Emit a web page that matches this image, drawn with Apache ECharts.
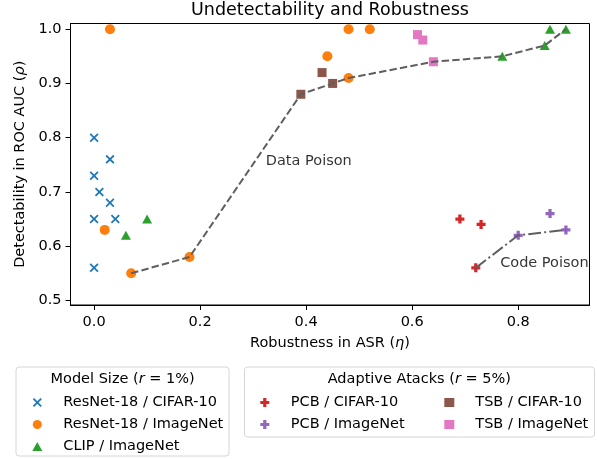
<!DOCTYPE html>
<html>
<head>
<meta charset="utf-8">
<script src="https://cdn.jsdelivr.net/npm/echarts@6/dist/echarts.min.js"></script>
<style>
  html, body { margin: 0; padding: 0; background: #fff; }
  #chart { width: 597px; height: 459px; }
</style>
</head>
<body>
<div id="chart"></div>
<script>
// model size (r = 1%)
const resnetCifar = [[0, 0.80], [0.03, 0.76], [0, 0.73], [0.01, 0.70], [0.03, 0.68], [0, 0.65], [0.04, 0.65], [0, 0.56]];
const resnetImagenet = [[0.03, 1.0], [0.02, 0.63], [0.07, 0.55], [0.18, 0.58], [0.48, 1.0], [0.52, 1.0], [0.44, 0.95], [0.48, 0.91]];
const clipImagenet = [[0.06, 0.62], [0.10, 0.65], [0.77, 0.95], [0.85, 0.97], [0.86, 1.0], [0.89, 1.0]];

// adaptive attacks (r = 5%)
const pcbCifar = [[0.69, 0.65], [0.73, 0.64], [0.72, 0.56]];
const pcbImagenet = [[0.80, 0.62], [0.86, 0.66], [0.89, 0.63]];
const tsbCifar = [[0.39, 0.88], [0.43, 0.92], [0.45, 0.90]];
const tsbImagenet = [[0.61, 0.99], [0.62, 0.98], [0.64, 0.94]];

// frontier lines
const dataPoison = [[0.07, 0.55], [0.18, 0.58], [0.39, 0.88], [0.45, 0.90], [0.48, 0.91], [0.64, 0.94], [0.77, 0.95], [0.85, 0.97], [0.89, 1.0]];
const codePoison = [[0.72, 0.56], [0.80, 0.62], [0.89, 0.63]];
const notes = [[0.323, 0.757, 'Data Poison'], [0.765, 0.568, 'Code Poison']];

const xTicks = [0, 0.2, 0.4, 0.6, 0.8];
const yTicks = [0.5, 0.6, 0.7, 0.8, 0.9, 1.0];

const FONT = 'DejaVu Sans';
const FS = 14.5;
const xMark = 'path://M0,1.4L1.4,0L5,3.6L8.6,0L10,1.4L6.4,5L10,8.6L8.6,10L5,6.4L1.4,10L0,8.6L3.6,5Z';
const plusMark = 'path://M3.2,0H6.8V3.2H10V6.8H6.8V10H3.2V6.8H0V3.2H3.2Z';

function pts(name, data, symbol, size, color) {
    return {
        name: name,
        type: 'scatter',
        data: data,
        symbol: symbol,
        symbolSize: size,
        itemStyle: { color: color, opacity: 1 },
        z: 2
    };
}

const chart = echarts.init(document.getElementById('chart'));

const legendBase = {
    orient: 'vertical',
    top: 395,
    padding: 0,
    itemWidth: 10,
    itemHeight: 9,
    itemGap: 7,
    selectedMode: false,
    textStyle: { fontFamily: FONT, fontSize: FS, color: '#000', lineHeight: 14, padding: [0, 0, 0, 16] }
};

const italic = { fontFamily: FONT, fontSize: FS, fontStyle: 'italic', color: '#000' };

const option = {
    animation: false,
    title: {
        text: 'Undetectability and Robustness',
        left: 330,
        textAlign: 'center',
        top: 1,
        padding: 0,
        textStyle: { fontFamily: FONT, fontSize: 17.5, fontWeight: 'normal', color: '#000', lineHeight: 19 }
    },
    grid: {
        left: 70.5, right: 7.5, top: 23.5, bottom: 154,
        show: true, borderColor: '#000', borderWidth: 1
    },
    xAxis: {
        type: 'value',
        min: -0.0445,
        max: 0.9345,
        name: 'Robustness in ASR ({i|η})',
        nameLocation: 'middle',
        nameGap: 31,
        nameTextStyle: { fontFamily: FONT, fontSize: FS, color: '#000', rich: { i: italic } },
        axisLine: { onZero: false, lineStyle: { color: '#000', width: 1 } },
        axisTick: { show: true, length: 5, customValues: xTicks, lineStyle: { color: '#000' } },
        axisLabel: {
            customValues: xTicks, margin: 10,
            fontFamily: FONT, fontSize: FS, color: '#000',
            formatter: v => v.toFixed(1)
        },
        splitLine: { show: false }
    },
    yAxis: {
        type: 'value',
        min: 0.4915,
        max: 1.0105,
        name: 'Detectability in ROC AUC ({i|ρ})',
        nameLocation: 'middle',
        nameGap: 41,
        nameTextStyle: { fontFamily: FONT, fontSize: FS, color: '#000', rich: { i: italic } },
        axisLine: { onZero: false, lineStyle: { color: '#000', width: 1 } },
        axisTick: { show: true, length: 5, customValues: yTicks, lineStyle: { color: '#000' } },
        axisLabel: {
            customValues: yTicks, margin: 9,
            fontFamily: FONT, fontSize: FS, color: '#000',
            formatter: v => v.toFixed(1)
        },
        splitLine: { show: false }
    },
    legend: [
        Object.assign({}, legendBase, {
            left: 32.3,
            data: ['ResNet-18 / CIFAR-10', 'ResNet-18 / ImageNet', 'CLIP / ImageNet']
        }),
        Object.assign({}, legendBase, {
            left: 260.3,
            data: ['PCB / CIFAR-10', 'PCB / ImageNet']
        }),
        Object.assign({}, legendBase, {
            left: 444.3,
            data: ['TSB / CIFAR-10', 'TSB / ImageNet']
        })
    ],
    graphic: [
        {
            type: 'rect', silent: true, z: -1,
            shape: { x: 16, y: 367, width: 213, height: 89, r: 3 },
            style: { fill: '#fff', stroke: '#d6d6d6', lineWidth: 1 }
        },
        {
            type: 'rect', silent: true, z: -1,
            shape: { x: 244.5, y: 367, width: 350, height: 70, r: 3 },
            style: { fill: '#fff', stroke: '#d6d6d6', lineWidth: 1 }
        },
        {
            type: 'text', silent: true,
            x: 122.6, y: 379,
            style: {
                text: 'Model Size ({i|r} = 1%)',
                align: 'center', verticalAlign: 'middle',
                fontFamily: FONT, fontSize: FS, fill: '#000',
                rich: { i: { fontFamily: FONT, fontSize: FS, fontStyle: 'italic', fill: '#000' } }
            }
        },
        {
            type: 'text', silent: true,
            x: 419.3, y: 379,
            style: {
                text: 'Adaptive Atacks ({i|r} = 5%)',
                align: 'center', verticalAlign: 'middle',
                fontFamily: FONT, fontSize: FS, fill: '#000',
                rich: { i: { fontFamily: FONT, fontSize: FS, fontStyle: 'italic', fill: '#000' } }
            }
        }
    ],
    series: [
        pts('ResNet-18 / CIFAR-10', resnetCifar, xMark, 9, '#1f77b4'),
        pts('ResNet-18 / ImageNet', resnetImagenet, 'circle', 10, '#ff7f0e'),
        pts('CLIP / ImageNet', clipImagenet, 'triangle', [10, 9], '#2ca02c'),
        pts('PCB / CIFAR-10', pcbCifar, plusMark, 9, '#d62728'),
        pts('PCB / ImageNet', pcbImagenet, plusMark, 9, '#9467bd'),
        pts('TSB / CIFAR-10', tsbCifar, 'rect', 9, '#8c564b'),
        pts('TSB / ImageNet', tsbImagenet, 'rect', 9, '#e377c2'),
        {
            name: 'Data Poison line',
            type: 'line',
            data: dataPoison,
            symbol: 'none',
            z: 3,
            lineStyle: { color: '#5f5f5f', width: 2, type: [7.4, 3.2] }
        },
        {
            name: 'Code Poison line',
            type: 'line',
            data: codePoison,
            symbol: 'none',
            z: 3,
            lineStyle: { color: '#5f5f5f', width: 2, type: [12.8, 3.2, 2, 3.2] }
        },
        {
            name: 'notes',
            type: 'scatter',
            data: notes,
            symbolSize: 1,
            itemStyle: { color: 'rgba(0,0,0,0)' },
            silent: true,
            label: {
                show: true,
                position: 'right',
                distance: 0,
                formatter: p => p.data[2],
                fontFamily: FONT, fontSize: FS, color: '#000'
            }
        }
    ]
};

chart.setOption(option);
</script>
</body>
</html>
